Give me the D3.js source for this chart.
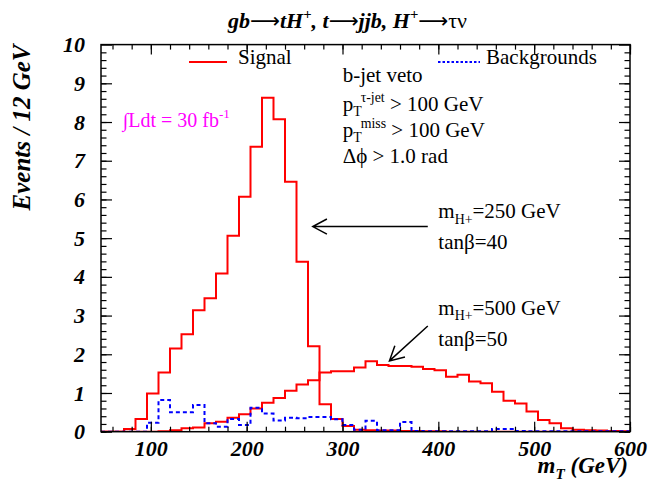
<!DOCTYPE html>
<html>
<head>
<meta charset="utf-8">
<script src="https://cdn.jsdelivr.net/npm/d3@7"></script>
<style>
body{margin:0;background:#fff}
svg{display:block}
text{font-family:"Liberation Serif","Times New Roman",serif;fill:#000}
.arw{font-family:"DejaVu Sans",sans-serif}
</style>
</head>
<body>
<svg width="649" height="487"></svg>
<script>
// histogram binning: 46 bins of 12 GeV starting at 48 GeV
const binStart=48
const binWidth=12

// mH+ = 250 GeV, tanb = 40
const signal250=[0,0,0.07,0.33,0.99,1.53,2.15,2.52,3.14,3.45,4.09,5.06,6.07,7.36,8.63,8.07,
  6.46,4.39,2.21,0.71,0.33,0.15,0.05,0.04,0.03,0.03,0.02,0.02,0.01,0.01,
  0,0,0,0,0,0,0,0,0,0,0,0,0,0,0,0]
// mH+ = 500 GeV, tanb = 50
const signal500=[0,0,0,0,0,0.01,0.04,0.09,0.11,0.22,0.26,0.36,0.45,0.60,0.75,0.87,1.06,1.22,1.33,
  1.53,1.56,1.56,1.66,1.82,1.72,1.70,1.70,1.68,1.62,1.59,1.42,1.47,1.30,1.25,1.03,0.80,0.73,
  0.52,0.30,0.22,0.09,0.05,0.04,0.03,0.02,0.01]
const backgrounds=[0,0,0,0,0.23,0.82,0.50,0.50,0.69,0.22,0.13,0.33,0.17,0.62,0.47,0.29,0.36,0.35,
  0.38,0.38,0.32,0.17,0.05,0.28,0.04,0.04,0.25,0.02,0.01,0.01,0.01,0.01,0.01,0.01,0.07,0.07,
  0.02,0.01,0.01,0.01,0.01,0.01,0.01,0.01,0.01,0.01]

const xTicks=[100,200,300,400,500,600]
const yTicks=[0,1,2,3,4,5,6,7,8,9,10]

const svg=d3.select('svg')
const width=+svg.attr('width')
const height=+svg.attr('height')
const margin={top:44.6,right:19,bottom:55.3,left:101}

const x=d3.scaleLinear().domain([48,600]).range([margin.left,width-margin.right])
const y=d3.scaleLinear().domain([0,10]).range([height-margin.bottom,margin.top])

svg.append('defs').append('clipPath').attr('id','frame')
  .append('rect')
  .attr('x',margin.left).attr('y',margin.top)
  .attr('width',x(600)-x(48)).attr('height',y(0)-y(10))

// text with sub/superscripts
const rich=(xp,yp,parts,size,opt={})=>{
  const t=svg.append('text')
    .attr('x',xp).attr('y',yp)
    .attr('font-size',size)
    .attr('text-anchor',opt.anchor||'start')
    .style('fill',opt.fill||'#000')
  if(opt.bi) t.attr('font-weight','bold').attr('font-style','italic')
  if(opt.transform) t.attr('transform',opt.transform).attr('x',0).attr('y',0)
  let shift=0
  parts.forEach(p=>{
    const [s,k,dx,up]=p
    const target=k==='sub'?size*0.26:k==='sup'?-size*0.42:0
    const ts=t.append('tspan')
      .attr('dy',target-shift)
      .attr('font-size',k?size*0.66:size)
      .text(s)
    if(dx) ts.attr('dx',dx)
    if(up) ts.attr('font-style','normal').attr('font-weight','normal')
    if(up==='arrow') ts.attr('class','arw').attr('font-size',size*0.95)
    shift=target
  })
  return t
}

/* histograms */
const histPoints=vals=>{
  const pts=[[binStart,0]]
  vals.forEach((v,i)=>pts.push([binStart+i*binWidth,v]))
  const end=binStart+vals.length*binWidth
  pts.push([end,vals[vals.length-1]])
  pts.push([end,0])
  return pts
}
const hline=d3.line()
  .x(d=>x(d[0]))
  .y(d=>y(d[1]))
  .curve(d3.curveStepAfter)

const gHist=svg.append('g').attr('clip-path','url(#frame)')
gHist.append('path')
  .attr('d',hline(histPoints(signal500)))
  .attr('fill','none').attr('stroke','#ff0000').attr('stroke-width',2)
gHist.append('path')
  .attr('d',hline(histPoints(signal250)))
  .attr('fill','none').attr('stroke','#ff0000').attr('stroke-width',2)
gHist.append('path')
  .attr('d',hline(histPoints(backgrounds)))
  .attr('fill','none').attr('stroke','#0000ff').attr('stroke-width',2)
  .attr('stroke-dasharray','4,3')

/* axes - ticks pointing inwards on all four sides */
const tickStyle=g=>{
  g.select('.domain').remove()
  g.selectAll('line').attr('stroke','#000').attr('stroke-width',1.2)
}
const xMinor=d3.range(60,601,20)
const yMinor=d3.range(0,50).map(i=>i*0.2)

svg.append('g').attr('transform',`translate(0,${y(0)})`)
  .call(d3.axisBottom(x).tickValues(xMinor).tickSize(-5).tickFormat(''))
  .call(tickStyle)
svg.append('g').attr('transform',`translate(0,${y(10)})`)
  .call(d3.axisTop(x).tickValues(xMinor).tickSize(-5).tickFormat(''))
  .call(tickStyle)
svg.append('g').attr('transform',`translate(0,${y(10)})`)
  .call(d3.axisTop(x).tickValues(xTicks).tickSize(-10).tickFormat(''))
  .call(tickStyle)
svg.append('g').attr('id','x-axis')
  .attr('transform',`translate(0,${y(0)})`)
  .call(d3.axisBottom(x).tickValues(xTicks).tickSize(-10).tickPadding(9).tickFormat(d3.format('d')))
  .call(tickStyle)
  .call(g=>g.selectAll('text')
    .attr('font-family','"Liberation Serif",serif')
    .attr('font-size',22).attr('font-weight','bold').attr('font-style','italic'))

svg.append('g').attr('transform',`translate(${x(48)},0)`)
  .call(d3.axisLeft(y).tickValues(yMinor).tickSize(-5.5).tickFormat(''))
  .call(tickStyle)
svg.append('g').attr('transform',`translate(${x(600)},0)`)
  .call(d3.axisRight(y).tickValues(yMinor).tickSize(-5.5).tickFormat(''))
  .call(tickStyle)
svg.append('g').attr('transform',`translate(${x(600)},0)`)
  .call(d3.axisRight(y).tickValues(yTicks).tickSize(-11).tickFormat(''))
  .call(tickStyle)
svg.append('g').attr('id','y-axis')
  .attr('transform',`translate(${x(48)},0)`)
  .call(d3.axisLeft(y).tickValues(yTicks).tickSize(-11).tickPadding(16))
  .call(tickStyle)
  .call(g=>g.selectAll('text')
    .attr('font-family','"Liberation Serif",serif')
    .attr('font-size',22).attr('font-weight','bold').attr('font-style','italic'))

// frame
svg.append('rect')
  .attr('x',x(48)).attr('y',y(10))
  .attr('width',x(600)-x(48)).attr('height',y(0)-y(10))
  .attr('fill','none').attr('stroke','#000').attr('stroke-width',1.5)

/* titles */
rich(347.5,28.3,[['gb'],['\u27f6',null,0,'arrow'],['tH'],['+','sup'],[', t'],['\u27f6',null,0,'arrow'],
  ['jjb, H'],['+','sup'],['\u27f6',null,0,'arrow'],['\u03c4\u03bd',null,0,true]],22,{anchor:'middle',bi:true})
rich(0,0,[['Events / 12 GeV']],25,{anchor:'middle',bi:true,transform:'translate(30,127.5) rotate(-90)'})
rich(628,473,[['m'],['T','sub'],[' (GeV)']],23,{anchor:'end',bi:true})

/* legend */
svg.append('line').attr('x1',189).attr('x2',227).attr('y1',62).attr('y2',62)
  .attr('stroke','#ff0000').attr('stroke-width',2)
rich(238,64,[['Signal']],21)
svg.append('line').attr('x1',438).attr('x2',480).attr('y1',62).attr('y2',62)
  .attr('stroke','#0000ff').attr('stroke-width',2).attr('stroke-dasharray','2.5,2')
rich(486,64,[['Backgrounds']],21)

/* cuts */
rich(342.7,81.7,[['b-jet veto']],21)
rich(342.7,110.5,[['p'],['T','sub'],['\u03c4-jet','sup',-1],[' > 100 GeV']],21)
rich(342.7,136.5,[['p'],['T','sub'],['miss','sup',-1],[' > 100 GeV']],21)
rich(342.7,163.3,[['\u0394\u03d5 > 1.0 rad']],21)

rich(122.7,126.7,[['\u222bLdt = 30 fb'],['-1','sup']],20,{fill:'#ff00ff'})

/* mass point labels and arrows */
rich(438.3,218.3,[['m'],['H+','sub'],['=250 GeV']],21)
rich(438.3,249.3,[['tan\u03b2=40']],21)
rich(438.3,315,[['m'],['H+','sub'],['=500 GeV']],21)
rich(438.3,346,[['tan\u03b2=50']],21)

const arrows=[
  {from:[389,5.3],to:[269,5.3]},
  {from:[389,2.73],to:[349,1.83]}
]
arrows.forEach(a=>{
  const x1=x(a.from[0]),y1=y(a.from[1]),x2=x(a.to[0]),y2=y(a.to[1])
  const ang=Math.atan2(y2-y1,x2-x1)
  const len=16,spread=0.49
  const p1=[x2-len*Math.cos(ang-spread),y2-len*Math.sin(ang-spread)]
  const p2=[x2-len*Math.cos(ang+spread),y2-len*Math.sin(ang+spread)]
  svg.append('path')
    .attr('d',`M${x1},${y1}L${x2},${y2}M${p1[0]},${p1[1]}L${x2},${y2}L${p2[0]},${p2[1]}`)
    .attr('fill','none').attr('stroke','#000').attr('stroke-width',1.5)
})
</script>
</body>
</html>
